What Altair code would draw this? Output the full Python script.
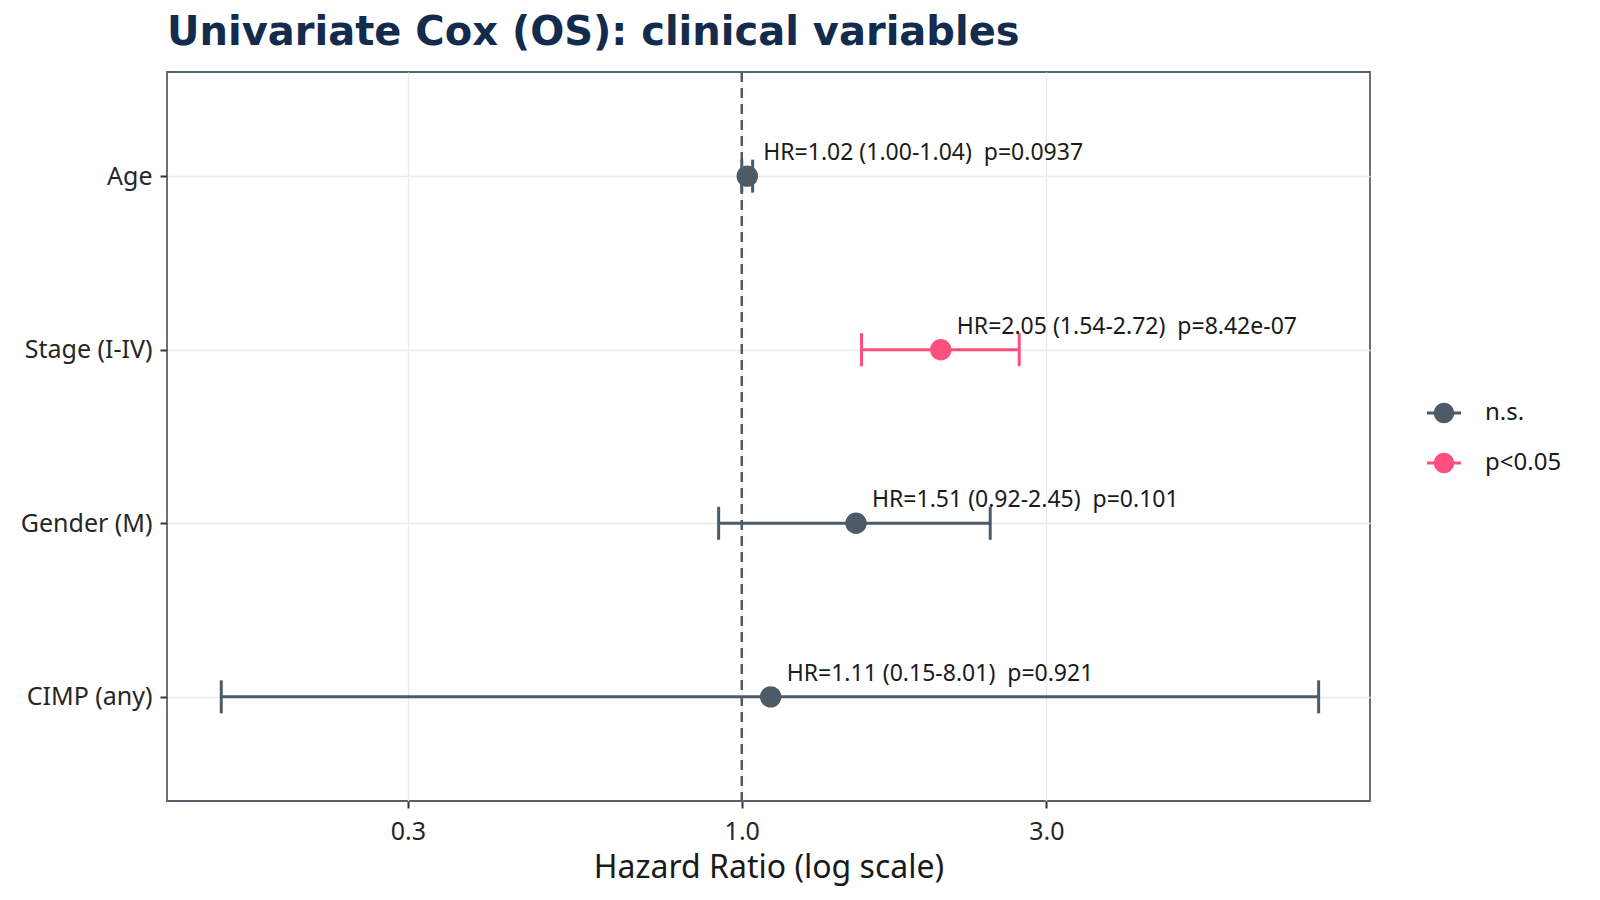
import altair as alt
import pandas as pd

# ---- data ----
variables = ["Age", "Stage (I-IV)", "Gender (M)", "CIMP (any)"]
hr = [1.02, 2.05, 1.51, 1.11]
lower = [1.00, 1.54, 0.92, 0.153]
upper = [1.04, 2.72, 2.45, 8.01]
pvals = ["0.0937", "8.42e-07", "0.101", "0.921"]
groups = ["n.s.", "p<0.05", "n.s.", "n.s."]
x_ticks = [0.3, 1.0, 3.0]
x_domain = [0.1258, 9.64]
ref_line = [1.0]
group_names = ["n.s.", "p<0.05"]
group_colors = ["#4C5B67", "#FF4F7E"]

labels = [
    f"HR={h:.2f} ({l:.2f}-{u:.2f}) \u00a0p={p}"
    for h, l, u, p in zip(hr, lower, upper, pvals)
]

df = pd.DataFrame({
    "variable": variables,
    "hr": hr,
    "lower": lower,
    "upper": upper,
    "group": groups,
    "label": labels,
})
ref_df = pd.DataFrame({"x": ref_line})

FONT = "Noto Sans"
GREY = group_colors[0]
PINK = group_colors[1]

xscale = alt.Scale(type="log", domain=x_domain, nice=False, zero=False)
yscale = alt.Scale(type="point", domain=variables, padding=0.6)
x_axis = alt.Axis(values=x_ticks, format=".1f", title="Hazard Ratio (log scale)")


def xenc(field):
    return alt.X(f"{field}:Q", scale=xscale, axis=x_axis)


y_enc = alt.Y("variable:N", scale=yscale, axis=alt.Axis(title=None), sort=variables)
col_scale = alt.Scale(domain=group_names, range=group_colors)
cond_color = alt.condition(
    alt.datum.group == group_names[1], alt.value(PINK), alt.value(GREY)
)

base = alt.Chart(df)

vline = alt.Chart(ref_df).mark_rule(
    strokeDash=[10, 6], strokeWidth=2.5, color=GREY
).encode(x=xenc("x"))

bars = base.mark_rule(strokeWidth=3).encode(
    x=xenc("lower"),
    x2="upper:Q",
    y=y_enc,
    color=cond_color,
)

caps = base.transform_fold(["lower", "upper"], as_=["end", "val"]).mark_tick(
    size=33, thickness=3, opacity=1
).encode(
    x=xenc("val"),
    y=y_enc,
    color=cond_color,
)

# legend symbol: horizontal bar through a filled dot (all filled geometry)
legend_symbol = (
    "M-1,-0.088L1,-0.088L1,0.088L-1,0.088Z"
    "M0.6,0A0.6,0.6,0,1,1,-0.6,0A0.6,0.6,0,1,1,0.6,0Z"
)

legend = alt.Legend(
    title=None,
    orient="none",
    legendX=1260,
    legendY=324,
    symbolType=legend_symbol,
    symbolSize=1156,
    symbolStrokeWidth=0,
    symbolOpacity=1,
    labelFont=FONT,
    labelFontSize=24,
    labelColor="#1a1a1a",
    labelOffset=24,
    rowPadding=21,
    padding=0,
)

points = base.mark_point(filled=True, size=460, opacity=1).encode(
    x=xenc("hr"),
    y=y_enc,
    fill=alt.Fill("group:N", scale=col_scale, legend=legend),
)

texts = base.mark_text(
    align="left", baseline="alphabetic", dx=16, dy=-16,
    font=FONT, fontSize=23, color="#1a1a1a",
).encode(x=xenc("hr"), y=y_enc, text="label:N")

chart = alt.layer(vline, bars, caps, points, texts).properties(
    width=1203,
    height=729,
    title=alt.TitleParams(
        "Univariate Cox (OS): clinical variables",
        font="DejaVu Sans", fontSize=40, fontWeight="bold", color="#132B4C",
        anchor="start", frame="group", offset=18,
    ),
    autosize=alt.AutoSizeParams(type="none"),
    padding={"left": 167, "top": 72, "right": 230, "bottom": 99},
).configure_view(
    stroke="#55626D", strokeWidth=1.8,
).configure_axis(
    grid=True, gridColor="#EBEBEB", gridWidth=1.3,
    domain=False,
    tickColor="#333333", tickWidth=2, tickSize=7,
    labelFont=FONT, labelFontSize=25, labelColor="#262626",
    titleFont=FONT, titleFontSize=32, titleFontWeight="normal", titleColor="#1a1a1a",
).configure_axisX(
    labelPadding=11, titlePadding=8,
).configure_axisY(
    labelPadding=8,
)

chart.save("out.html", embed_options={"renderer": "svg", "actions": False})
